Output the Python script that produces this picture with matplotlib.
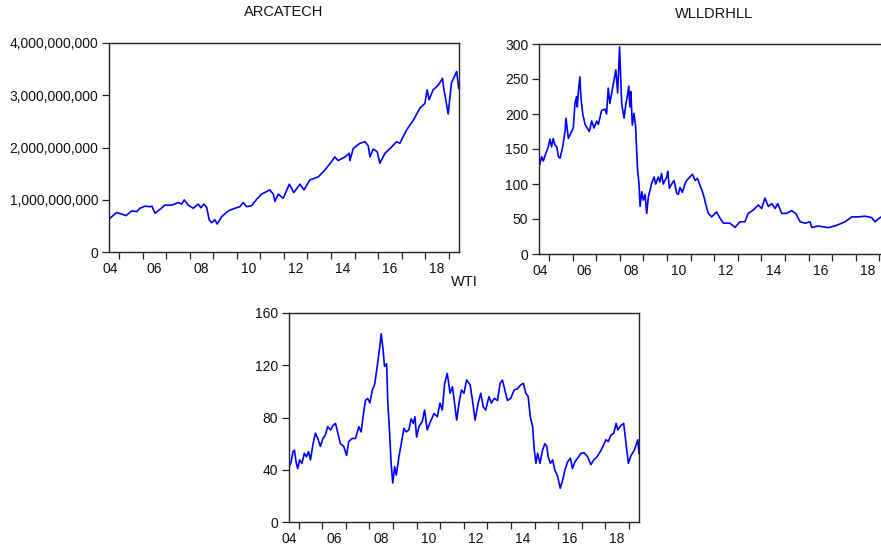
import numpy as np
import matplotlib.pyplot as plt
from matplotlib.ticker import FuncFormatter, FixedLocator

plt.rcParams['font.family'] = ['Liberation Sans', 'DejaVu Sans']

# Series sampled at decimal-year dates (Jul 2004 - May 2019)
arc_t = [2004.59, 2004.62, 2004.90, 2005.11, 2005.30, 2005.54, 2005.75, 2005.89,
         2006.10, 2006.32, 2006.40, 2006.53, 2006.74, 2006.95, 2007.24, 2007.52,
         2007.66, 2007.77, 2007.94, 2008.15, 2008.36, 2008.48, 2008.60, 2008.72,
         2008.83, 2008.93, 2009.07, 2009.17, 2009.36, 2009.64, 2009.92, 2010.13,
         2010.27, 2010.42, 2010.63, 2010.84, 2011.05, 2011.27, 2011.40, 2011.55,
         2011.62, 2011.76, 2011.97, 2012.23, 2012.42, 2012.68, 2012.85, 2013.10,
         2013.46, 2013.74, 2014.02, 2014.16, 2014.30, 2014.59, 2014.77, 2014.80,
         2014.94, 2015.22, 2015.44, 2015.58, 2015.65, 2015.79, 2015.96, 2016.07,
         2016.29, 2016.57, 2016.78, 2016.92, 2017.20, 2017.49, 2017.77, 2017.98,
         2018.08, 2018.16, 2018.33, 2018.55, 2018.73, 2018.79, 2018.87, 2018.97,
         2019.11, 2019.33, 2019.42]
# ARCATECH, in billions
arc_v = [0.63, 0.65, 0.76, 0.73, 0.70, 0.79, 0.775, 0.84,
         0.88, 0.87, 0.88, 0.745, 0.82, 0.90, 0.90, 0.95,
         0.92, 1.00, 0.90, 0.84, 0.92, 0.85, 0.92, 0.86,
         0.62, 0.565, 0.62, 0.54, 0.68, 0.79, 0.84, 0.87,
         0.95, 0.87, 0.89, 1.01, 1.11, 1.16, 1.19, 1.11,
         0.97, 1.11, 1.03, 1.30, 1.14, 1.30, 1.19, 1.38,
         1.44, 1.57, 1.73, 1.82, 1.75, 1.82, 1.89, 1.75,
         1.98, 2.08, 2.11, 2.03, 1.82, 1.97, 1.92, 1.70,
         1.89, 2.01, 2.11, 2.08, 2.33, 2.52, 2.75, 2.84,
         3.10, 2.91, 3.10, 3.19, 3.32, 3.10, 2.91, 2.64,
         3.23, 3.45, 3.13]

wll_t = [2004.59, 2004.62, 2004.69, 2004.76, 2004.87, 2004.97, 2005.04, 2005.11,
         2005.18, 2005.25, 2005.33, 2005.40, 2005.47, 2005.58, 2005.68, 2005.72,
         2005.82, 2005.96, 2006.03, 2006.10, 2006.17, 2006.20, 2006.24, 2006.31,
         2006.35, 2006.43, 2006.53, 2006.62, 2006.71, 2006.81, 2006.91, 2007.02,
         2007.09, 2007.23, 2007.37, 2007.44, 2007.51, 2007.58, 2007.73, 2007.83,
         2007.91, 2007.99, 2008.04, 2008.08, 2008.18, 2008.26, 2008.32, 2008.38,
         2008.43, 2008.47, 2008.53, 2008.60, 2008.67, 2008.71, 2008.75, 2008.81,
         2008.86, 2008.93, 2009.00, 2009.07, 2009.14, 2009.21, 2009.28, 2009.35,
         2009.45, 2009.52, 2009.63, 2009.70, 2009.77, 2009.84, 2009.99, 2010.03,
         2010.10, 2010.20, 2010.30, 2010.41, 2010.48, 2010.55, 2010.65, 2010.76,
         2010.83, 2010.97, 2011.08, 2011.19, 2011.29, 2011.40, 2011.50, 2011.58,
         2011.61, 2011.75, 2011.89, 2012.10, 2012.25, 2012.39, 2012.67, 2012.88,
         2013.09, 2013.30, 2013.44, 2013.66, 2013.87, 2014.01, 2014.15, 2014.29,
         2014.44, 2014.58, 2014.69, 2014.86, 2015.07, 2015.28, 2015.45, 2015.64,
         2015.85, 2016.06, 2016.13, 2016.41, 2016.84, 2017.19, 2017.54, 2017.83,
         2018.10, 2018.39, 2018.67, 2018.81, 2018.95, 2019.07, 2019.25, 2019.42]
wll_v = [126, 129, 139, 133, 144, 153, 164, 153,
         165, 156, 153, 139, 137, 153, 175, 194,
         165, 175, 180, 215, 225, 210, 230, 253,
         225, 200, 185, 180, 175, 190, 180, 190,
         185, 205, 207, 200, 237, 215, 244, 263,
         230, 296, 250, 215, 194, 215, 225, 240,
         210, 232, 184, 201, 182, 153, 122, 101,
         68, 89, 77, 85, 58, 82, 91, 101,
         110, 100, 110, 103, 115, 100, 110, 118,
         94, 100, 105, 87, 85, 95, 88, 100,
         105, 110, 114, 105, 108, 98, 89, 80,
         75, 58, 53, 60, 51, 44, 44, 38,
         46, 46, 58, 63, 70, 65, 80, 68,
         72, 65, 72, 58, 58, 62, 58, 46,
         44, 46, 38, 40, 37.6, 41, 46, 53,
         53, 54, 52, 46, 50, 53, 51, 52]

wti_t = [2004.60, 2004.68, 2004.76, 2004.82, 2004.89, 2004.96, 2005.04, 2005.14,
         2005.24, 2005.33, 2005.42, 2005.50, 2005.61, 2005.71, 2005.81, 2005.92,
         2006.03, 2006.13, 2006.23, 2006.35, 2006.46, 2006.56, 2006.66, 2006.77,
         2006.91, 2007.03, 2007.12, 2007.27, 2007.41, 2007.55, 2007.65, 2007.73,
         2007.83, 2007.93, 2008.02, 2008.12, 2008.22, 2008.33, 2008.44, 2008.50,
         2008.58, 2008.64, 2008.73, 2008.78, 2008.85, 2008.92, 2008.99, 2009.07,
         2009.14, 2009.25, 2009.35, 2009.46, 2009.56, 2009.67, 2009.77, 2009.86,
         2009.93, 2010.00, 2010.10, 2010.24, 2010.34, 2010.45, 2010.59, 2010.74,
         2010.88, 2010.99, 2011.09, 2011.19, 2011.30, 2011.42, 2011.52, 2011.61,
         2011.70, 2011.80, 2011.90, 2012.01, 2012.12, 2012.27, 2012.37, 2012.48,
         2012.61, 2012.72, 2012.83, 2012.93, 2013.07, 2013.17, 2013.29, 2013.43,
         2013.54, 2013.64, 2013.74, 2013.85, 2013.99, 2014.14, 2014.28, 2014.42,
         2014.53, 2014.63, 2014.73, 2014.82, 2014.92, 2014.99, 2015.06, 2015.13,
         2015.23, 2015.34, 2015.44, 2015.52, 2015.58, 2015.67, 2015.77, 2015.86,
         2015.98, 2016.09, 2016.19, 2016.29, 2016.40, 2016.52, 2016.61, 2016.71,
         2016.83, 2016.97, 2017.11, 2017.25, 2017.39, 2017.51, 2017.65, 2017.79,
         2017.93, 2018.03, 2018.13, 2018.24, 2018.36, 2018.46, 2018.53, 2018.67,
         2018.78, 2018.88, 2018.98, 2019.09, 2019.23, 2019.38, 2019.43]
wti_v = [42.5, 46, 54, 55, 46, 41, 47.6, 45,
         52.7, 50, 54, 47.6, 60, 68, 64, 58,
         64, 66.6, 73, 70.5, 74, 75.5, 68, 60,
         58, 51, 61.6, 64, 64, 73, 69, 80.6,
         93, 94.6, 91, 101, 105, 119, 134, 144,
         131.5, 119, 121, 91, 70.5, 45, 30, 42.5,
         36, 50, 60, 71.7, 69, 70.5, 79, 75.5,
         80.6, 65, 73, 77, 85.7, 70.5, 77, 83,
         80.6, 91, 85.7, 106, 113.7, 98.5, 103.5, 91,
         78, 91, 101, 98.5, 108.6, 105, 93, 78,
         91, 98.5, 88, 85.7, 96, 91, 94.6, 93,
         106, 108.6, 101, 93, 94.6, 101, 102, 105,
         106, 98.5, 96, 80.6, 73, 55, 45, 52.7,
         45, 55, 60, 58, 50, 45, 47.6, 40,
         35, 26, 32, 40, 46, 49, 41, 46,
         49, 52.7, 53, 50, 44, 47.6, 50, 54,
         59, 63, 61.6, 66.6, 68, 75.5, 70.5, 74,
         75.5, 60, 45, 51, 55, 63, 52.7]

year_ticks = list(range(2005, 2020))
label_pos = [2004.62, 2006.5, 2008.5, 2010.5, 2012.5, 2014.5, 2016.5, 2018.5]
label_txt = ['04', '06', '08', '10', '12', '14', '16', '18']

W, H = 881, 545
fig = plt.figure(figsize=(W / 100, H / 100), dpi=100)


def make_axes(left, top, right, bottom):
    # pixel box -> figure fractions
    return fig.add_axes([left / W, 1 - bottom / H, (right - left) / W, (bottom - top) / H])


def style(ax, title):
    ax.set_xlim(2004.59, 2019.43)
    ax.xaxis.set_major_locator(FixedLocator(year_ticks))
    ax.xaxis.set_minor_locator(FixedLocator(label_pos))
    ax.xaxis.set_major_formatter(FuncFormatter(lambda v, p: ''))
    ax.set_xticklabels(label_txt, minor=True)
    ax.tick_params(axis='x', which='major', direction='out', length=5, width=0.9,
                   top=False, color='#222222')
    ax.tick_params(axis='x', which='minor', length=0, pad=7, labelsize=10,
                   labelcolor='#111111')
    ax.tick_params(axis='y', direction='out', length=5, width=0.9, right=False,
                   pad=3, labelsize=10, labelcolor='#111111', color='#222222')
    for s in ax.spines.values():
        s.set_linewidth(1.0)
        s.set_color('#222222')
    ax.set_title(title, fontsize=10.5, pad=19, color='#111111')


line_kw = dict(color='#0000ff', lw=1.2)

# ARCATECH
ax1 = make_axes(109.3, 42.7, 459, 252.3)
ax1.plot(arc_t, np.array(arc_v) * 1e9, **line_kw)
ax1.set_ylim(0, 4e9)
ax1.set_yticks([0, 1e9, 2e9, 3e9, 4e9])
ax1.yaxis.set_major_formatter(FuncFormatter(lambda v, p: f'{v:,.0f}'))
style(ax1, 'ARCATECH')

# WLLDRHLL (panel runs past the right edge)
ax2 = make_axes(539.3, 44, 889.6, 254)
ax2.plot(wll_t, wll_v, **line_kw)
ax2.set_ylim(0, 300)
ax2.set_yticks([0, 50, 100, 150, 200, 250, 300])
style(ax2, 'WLLDRHLL')

# WTI
ax3 = make_axes(289, 312.7, 639, 522.3)
ax3.plot(wti_t, wti_v, **line_kw)
ax3.set_ylim(0, 160)
ax3.set_yticks([0, 40, 80, 120, 160])
style(ax3, 'WTI')

fig.savefig('out.png', dpi=100)
